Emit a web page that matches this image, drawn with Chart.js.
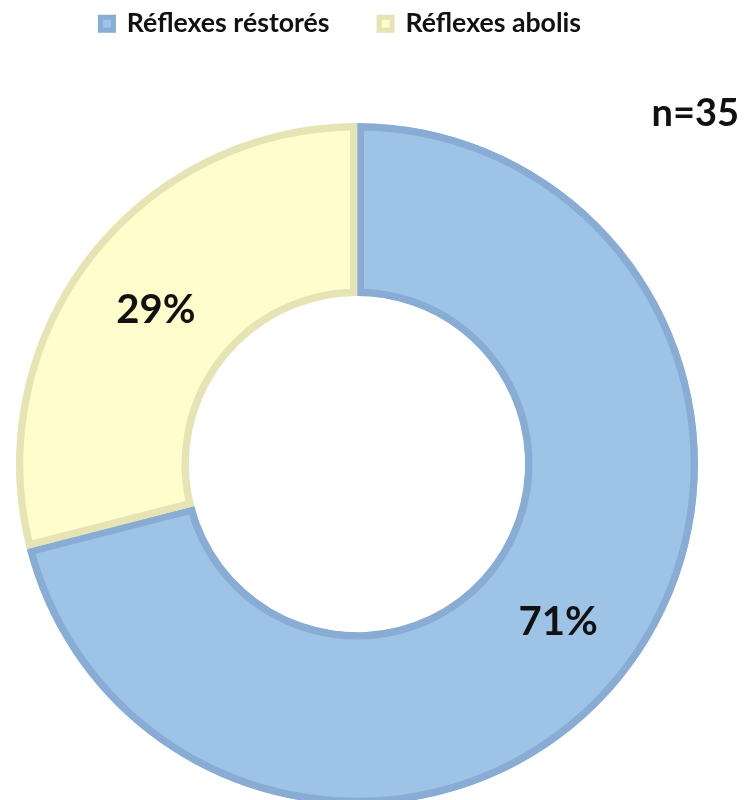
<!DOCTYPE html>
<html>
<head>
<meta charset="utf-8">
<script src="https://cdn.jsdelivr.net/npm/chart.js@4/dist/chart.umd.min.js"></script>
<style>
  html, body { margin: 0; padding: 0; background: #ffffff; overflow: hidden; }
  #wrap { position: relative; width: 744px; height: 800px; overflow: hidden; }
  #chart { position: absolute; left: 0; top: -39px; }
</style>
</head>
<body>
<div id="wrap"><canvas id="chart" width="744" height="920"></canvas></div>
<script>
// Reflex recovery, share of patients (percent)
const categories = ['Réflexes réstorés', 'Réflexes abolis'];
const percentages = [71, 29];
const sampleSize = 35;

const fillColors = ['#9DC3E6', '#FFFDCC'];
const edgeColors = ['#88ACD3', '#E6E4B4'];

const FONT = "Lato, 'Open Sans', sans-serif";

// Percent labels at each slice's centroid, plus the sample size note
const sliceLabels = {
  id: 'sliceLabels',
  afterDatasetsDraw(chart) {
    const ctx = chart.ctx;
    const meta = chart.getDatasetMeta(0);
    ctx.save();
    ctx.fillStyle = '#111111';
    ctx.font = 'bold 40px ' + FONT;
    ctx.textAlign = 'center';
    ctx.textBaseline = 'middle';
    meta.data.forEach((arc, i) => {
      const p = arc.tooltipPosition();
      ctx.fillText(chart.data.datasets[0].data[i] + '%', p.x, p.y + 2);
    });
    ctx.font = 'bold 38px ' + FONT;
    ctx.textAlign = 'right';
    ctx.textBaseline = 'alphabetic';
    ctx.fillText('n=' + sampleSize, 739, 165);
    ctx.restore();
  }
};

new Chart(document.getElementById('chart'), {
  type: 'doughnut',
  data: {
    labels: categories,
    datasets: [{
      data: percentages,
      backgroundColor: fillColors,
      borderColor: edgeColors,
      borderWidth: 7,
      borderAlign: 'inner'
    }]
  },
  options: {
    responsive: false,
    animation: false,
    devicePixelRatio: 1,
    radius: 341,
    cutout: '49.3%',
    layout: { padding: { left: 51, right: 81, top: 0, bottom: 0 } },
    plugins: {
      tooltip: { enabled: false },
      legend: {
        position: 'top',
        align: 'start',
        labels: {
          color: '#111111',
          font: { family: FONT, size: 26.7, weight: 'bold' },
          boxWidth: 13,
          boxHeight: 13,
          padding: 49.5,
          generateLabels(chart) {
            const items = Chart.overrides.doughnut.plugins.legend.labels.generateLabels(chart);
            items.forEach(it => { it.lineWidth = 5; });
            return items;
          }
        }
      }
    }
  },
  plugins: [sliceLabels]
});
</script>
</body>
</html>
